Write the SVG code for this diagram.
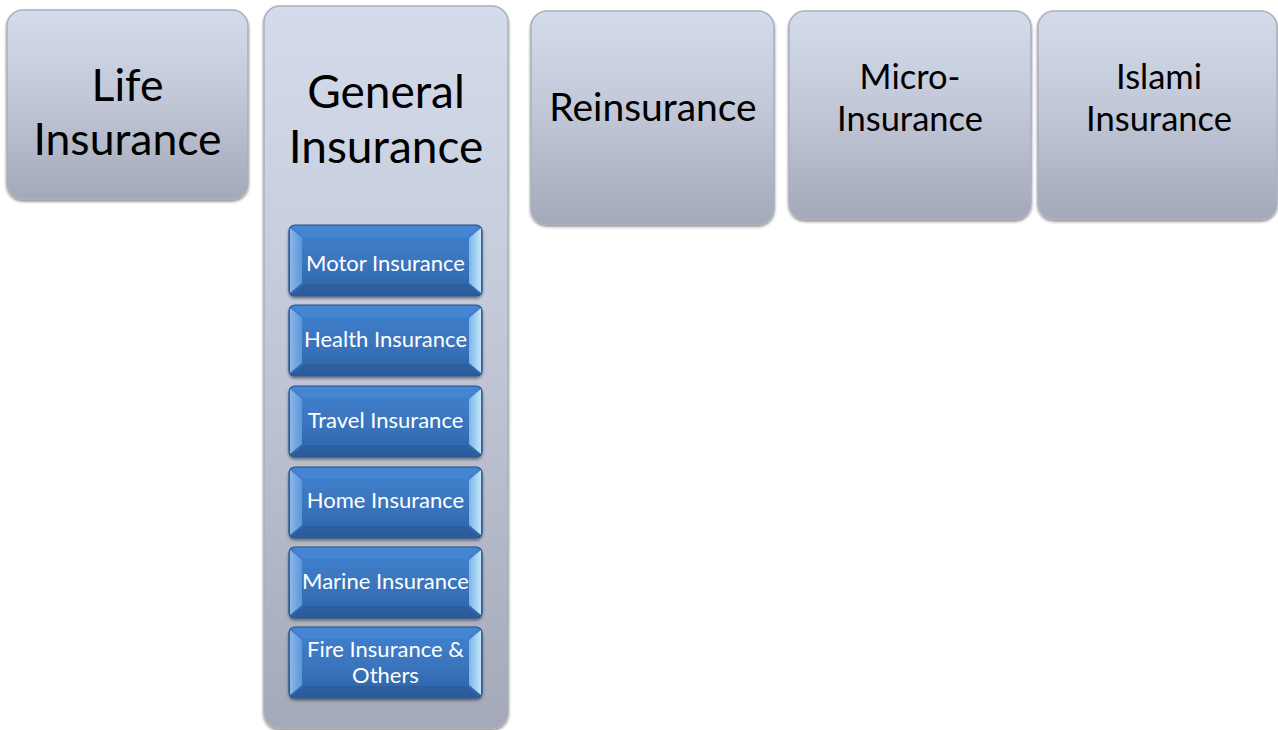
<svg xmlns="http://www.w3.org/2000/svg" width="1278" height="730" viewBox="0 0 1278 730">
  <defs>
    <linearGradient id="greyFill" x1="0" y1="0" x2="0" y2="1">
      <stop offset="0" stop-color="#d4dcec"/>
      <stop offset="0.5" stop-color="#c0c6d6"/>
      <stop offset="1" stop-color="#a3a9b9"/>
    </linearGradient>
    <linearGradient id="blueFill" x1="0" y1="0" x2="0" y2="1">
      <stop offset="0" stop-color="#4182d0"/>
      <stop offset="0.55" stop-color="#3a74bd"/>
      <stop offset="1" stop-color="#2d62a6"/>
    </linearGradient>
    <linearGradient id="bevelLeft" x1="0" y1="0" x2="1" y2="0">
      <stop offset="0" stop-color="#8ab8ea"/>
      <stop offset="1" stop-color="#5d95d8"/>
    </linearGradient>
    <linearGradient id="bevelRight" x1="0" y1="0" x2="1" y2="0">
      <stop offset="0" stop-color="#7cb6ea"/>
      <stop offset="1" stop-color="#c4e6fb"/>
    </linearGradient>
    <filter id="shadow" x="-10%" y="-10%" width="120%" height="130%">
      <feGaussianBlur in="SourceAlpha" stdDeviation="1.5"/>
      <feOffset dx="0" dy="1.5" result="b"/>
      <feComponentTransfer><feFuncA type="linear" slope="0.45"/></feComponentTransfer>
      <feMerge><feMergeNode/><feMergeNode in="SourceGraphic"/></feMerge>
    </filter>
  </defs>
  <style>
    .grey { fill: url(#greyFill); stroke: #a9afbf; stroke-width: 1.5; }
    .blue { fill: url(#blueFill); stroke: #2a5286; stroke-width: 1.2; }
    .bl { fill: url(#bevelLeft); }
    .br { fill: url(#bevelRight); }
    .bb { fill: #2a5894; opacity: 0.55; }
    .bt { fill: #4a8ad6; opacity: 0.6; }
    .big { font-family: Lato, "Liberation Sans", sans-serif; fill: #000; text-anchor: middle; }
    .small { font-family: Lato, "Liberation Sans", sans-serif; fill: #fff; text-anchor: middle; font-size: 22px; }
  </style>

  <rect width="1278" height="730" fill="#ffffff"/>

  <!-- top-level categories -->
  <g id="life">
    <rect class="grey" x="7" y="10" width="241" height="189" rx="16" filter="url(#shadow)"/>
    <text class="big" font-size="44.5"><tspan x="127.5" y="101">Life</tspan><tspan x="127.5" y="155">Insurance</tspan></text>
  </g>

  <g id="general">
    <rect class="grey" x="264" y="6" width="244" height="722" rx="16" filter="url(#shadow)"/>
    <text class="big" font-size="46"><tspan x="386" y="108">General</tspan><tspan x="386" y="163">Insurance</tspan></text>
  </g>

  <g id="reinsurance">
    <rect class="grey" x="531" y="11" width="243" height="213" rx="16" filter="url(#shadow)"/>
    <text class="big" font-size="39" x="653" y="121">Reinsurance</text>
  </g>

  <g id="micro">
    <rect class="grey" x="789" y="11" width="242" height="208" rx="16" filter="url(#shadow)"/>
    <text class="big" font-size="34.5"><tspan x="910" y="89">Micro-</tspan><tspan x="910" y="131">Insurance</tspan></text>
  </g>

  <g id="islami">
    <rect class="grey" x="1038" y="11" width="239" height="208" rx="16" filter="url(#shadow)"/>
    <text class="big" font-size="34.5"><tspan x="1159" y="89">Islami</tspan><tspan x="1159" y="131">Insurance</tspan></text>
  </g>

  <!-- general insurance sub-types: bevelled buttons -->
  <g id="motor" transform="translate(289,225)">
    <rect class="blue" width="193" height="71" rx="6" filter="url(#shadow)"/>
    <polygon class="bt" points="3,1 190,1 178,12 15,12"/>
    <polygon class="bb" points="15,59 178,59 190,70 3,70"/>
    <polygon class="bl" points="1,3 13,13 13,58 1,68"/>
    <polygon class="br" points="180,13 192,3 192,68 180,58"/>
    <text class="small" x="96.5" y="46">Motor Insurance</text>
  </g>

  <g id="health" transform="translate(289,305)">
    <rect class="blue" width="193" height="71" rx="6" filter="url(#shadow)"/>
    <polygon class="bt" points="3,1 190,1 178,12 15,12"/>
    <polygon class="bb" points="15,59 178,59 190,70 3,70"/>
    <polygon class="bl" points="1,3 13,13 13,58 1,68"/>
    <polygon class="br" points="180,13 192,3 192,68 180,58"/>
    <text class="small" x="96.5" y="42">Health Insurance</text>
  </g>

  <g id="travel" transform="translate(289,386)">
    <rect class="blue" width="193" height="71" rx="6" filter="url(#shadow)"/>
    <polygon class="bt" points="3,1 190,1 178,12 15,12"/>
    <polygon class="bb" points="15,59 178,59 190,70 3,70"/>
    <polygon class="bl" points="1,3 13,13 13,58 1,68"/>
    <polygon class="br" points="180,13 192,3 192,68 180,58"/>
    <text class="small" x="96.5" y="42">Travel Insurance</text>
  </g>

  <g id="home" transform="translate(289,467)">
    <rect class="blue" width="193" height="71" rx="6" filter="url(#shadow)"/>
    <polygon class="bt" points="3,1 190,1 178,12 15,12"/>
    <polygon class="bb" points="15,59 178,59 190,70 3,70"/>
    <polygon class="bl" points="1,3 13,13 13,58 1,68"/>
    <polygon class="br" points="180,13 192,3 192,68 180,58"/>
    <text class="small" x="96.5" y="41">Home Insurance</text>
  </g>

  <g id="marine" transform="translate(289,547)">
    <rect class="blue" width="193" height="71" rx="6" filter="url(#shadow)"/>
    <polygon class="bt" points="3,1 190,1 178,12 15,12"/>
    <polygon class="bb" points="15,59 178,59 190,70 3,70"/>
    <polygon class="bl" points="1,3 13,13 13,58 1,68"/>
    <polygon class="br" points="180,13 192,3 192,68 180,58"/>
    <text class="small" x="96.5" y="42">Marine Insurance</text>
  </g>

  <g id="fire" transform="translate(289,627)">
    <rect class="blue" width="193" height="71" rx="6" filter="url(#shadow)"/>
    <polygon class="bt" points="3,1 190,1 178,12 15,12"/>
    <polygon class="bb" points="15,59 178,59 190,70 3,70"/>
    <polygon class="bl" points="1,3 13,13 13,58 1,68"/>
    <polygon class="br" points="180,13 192,3 192,68 180,58"/>
    <text class="small"><tspan x="96.5" y="30">Fire Insurance &amp;</tspan><tspan x="96.5" y="56">Others</tspan></text>
  </g>

  <!-- no connectors are drawn between the categories -->
  <g id="connectors"/>
</svg>
